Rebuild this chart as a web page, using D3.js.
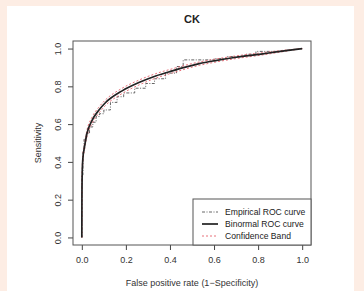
<!DOCTYPE html>
<html>
<head>
<meta charset="utf-8">
<script src="https://cdn.jsdelivr.net/npm/d3@7"></script>
<style>
  body { margin: 0; background: #fdede4; }
  svg { display: block; font-family: "Liberation Sans", Arial, sans-serif; }
</style>
</head>
<body>
<svg id="ROC_CHART" width="364" height="291"></svg>
<script>
// binormal ROC curve
const binFpr  = [0, 0.0005, 0.002, 0.005, 0.012, 0.023, 0.046, 0.076, 0.107, 0.183, 0.259, 0.335, 0.411, 0.533, 0.6, 0.7, 0.813, 0.9, 1.0];
const binSens = [0, 0.2, 0.35, 0.42, 0.478, 0.549, 0.619, 0.672, 0.713, 0.776, 0.82, 0.855, 0.882, 0.92, 0.935, 0.954, 0.971, 0.985, 1.0];

// confidence band (red dashed), same fpr points
const bandLow  = [0, 0.17, 0.32, 0.40, 0.462, 0.532, 0.602, 0.656, 0.698, 0.762, 0.807, 0.843, 0.871, 0.911, 0.927, 0.947, 0.965, 0.981, 1.0];
const bandHigh = [0, 0.23, 0.38, 0.44, 0.494, 0.566, 0.636, 0.688, 0.728, 0.79, 0.833, 0.867, 0.893, 0.929, 0.943, 0.961, 0.977, 0.989, 1.0];

// empirical ROC curve (step vertices)
const empFpr  = [0, 0, 0.005, 0.005, 0.01, 0.01, 0.02, 0.02, 0.035, 0.035, 0.05, 0.05, 0.065, 0.065, 0.08, 0.08, 0.1, 0.1, 0.13, 0.13, 0.16, 0.16, 0.19, 0.19, 0.24, 0.24, 0.29, 0.29, 0.33, 0.33, 0.38, 0.38, 0.43, 0.43, 0.46, 0.46, 0.6, 0.6, 0.66, 0.66, 0.74, 0.74, 0.79, 0.79, 0.92, 0.92, 1.0];
const empSens = [0, 0.33, 0.33, 0.45, 0.45, 0.52, 0.52, 0.55, 0.55, 0.585, 0.585, 0.61, 0.61, 0.64, 0.64, 0.655, 0.655, 0.675, 0.675, 0.715, 0.715, 0.745, 0.745, 0.765, 0.765, 0.79, 0.79, 0.815, 0.815, 0.84, 0.84, 0.87, 0.87, 0.905, 0.905, 0.94, 0.94, 0.947, 0.947, 0.958, 0.958, 0.97, 0.97, 0.985, 0.985, 0.99, 1.0];

const xTicks = [0, 0.2, 0.4, 0.6, 0.8, 1.0];
const yTicks = [0, 0.2, 0.4, 0.6, 0.8, 1.0];
const legendLabels = ["Empirical ROC curve", "Binormal ROC curve", "Confidence Band"];

var svg = d3.select("#ROC_CHART");
var box = { left: 73, right: 311, top: 41, bottom: 245 };

// white panel
svg.append("rect").attr("x", 7).attr("y", 6).attr("width", 347).attr("height", 290).attr("fill", "#fff");

var x = d3.scaleLinear().domain([-0.04, 1.04]).range([box.left, box.right]);
var y = d3.scaleLinear().domain([-0.04, 1.04]).range([box.bottom, box.top]);

svg.append("clipPath").attr("id", "clip")
  .append("rect")
  .attr("x", box.left).attr("y", box.top)
  .attr("width", box.right - box.left).attr("height", box.bottom - box.top);

var plot = svg.append("g").attr("clip-path", "url(#clip)");

var line = d3.line()
  .x(function (d) { return x(d[0]); })
  .y(function (d) { return y(d[1]); });
var smooth = d3.line()
  .x(function (d) { return x(d[0]); })
  .y(function (d) { return y(d[1]); })
  .curve(d3.curveMonotoneX);

var emp = empFpr.map(function (f, i) { return [f, empSens[i]]; });
var low = binFpr.map(function (f, i) { return [f, bandLow[i]]; });
var high = binFpr.map(function (f, i) { return [f, bandHigh[i]]; });
var bin = binFpr.map(function (f, i) { return [f, binSens[i]]; });

plot.append("path").attr("d", line(emp))
  .attr("fill", "none").attr("stroke", "#555").attr("stroke-width", 0.9)
  .attr("stroke-dasharray", "3,1.5,1,1.5");

[low, high].forEach(function (b) {
  plot.append("path").attr("d", smooth(b))
    .attr("fill", "none").attr("stroke", "#e8707a").attr("stroke-width", 1)
    .attr("stroke-dasharray", "2,2");
});

plot.append("path").attr("d", smooth(bin))
  .attr("fill", "none").attr("stroke", "#222").attr("stroke-width", 1.7);

// axes
var xAxis = svg.append("g")
  .attr("transform", "translate(0," + box.bottom + ")")
  .call(d3.axisBottom(x).tickValues(xTicks).tickSize(5).tickFormat(d3.format(".1f")));
var yAxis = svg.append("g")
  .attr("transform", "translate(" + box.left + ",0)")
  .call(d3.axisLeft(y).tickValues(yTicks).tickSize(5).tickFormat(d3.format(".1f")));

[xAxis, yAxis].forEach(function (a) {
  a.select(".domain").remove();
  a.selectAll("line").attr("stroke", "#444");
  a.selectAll("text").attr("fill", "#333").style("font-size", "9px")
    .style("font-family", "Liberation Sans, Arial, sans-serif");
});
xAxis.selectAll("text").attr("y", 12);
yAxis.selectAll("text")
  .attr("x", 0).attr("dy", 0)
  .attr("transform", function (d) { return "translate(-15,0) rotate(-90)"; })
  .attr("text-anchor", "middle")
  .attr("dominant-baseline", "central");

svg.append("rect")
  .attr("x", box.left).attr("y", box.top)
  .attr("width", box.right - box.left).attr("height", box.bottom - box.top)
  .attr("fill", "none").attr("stroke", "#555").attr("stroke-width", 1);

// titles
svg.append("text").text("CK")
  .attr("x", 192).attr("y", 23).attr("text-anchor", "middle")
  .style("font-size", "11px").style("font-weight", "bold").attr("fill", "#222");
svg.append("text").text("False positive rate (1\u2212Specificity)")
  .attr("x", 192).attr("y", 286).attr("text-anchor", "middle")
  .style("font-size", "9px").attr("fill", "#333");
svg.append("text").text("Sensitivity")
  .attr("transform", "translate(38,143) rotate(-90)")
  .attr("text-anchor", "middle").attr("dominant-baseline", "central")
  .style("font-size", "9px").attr("fill", "#333");

// legend
var leg = svg.append("g");
leg.append("rect").attr("x", 193).attr("y", 199).attr("width", 118).attr("height", 46)
  .attr("fill", "#fff").attr("stroke", "#555").attr("stroke-width", 1);
var legStyles = [
  { stroke: "#555", width: 0.9, dash: "3,1.5,1,1.5" },
  { stroke: "#222", width: 1.7, dash: null },
  { stroke: "#e8707a", width: 1, dash: "2,2" }
];
legendLabels.forEach(function (lab, i) {
  var yy = 212 + i * 12;
  leg.append("line").attr("x1", 202).attr("x2", 218).attr("y1", yy).attr("y2", yy)
    .attr("stroke", legStyles[i].stroke).attr("stroke-width", legStyles[i].width)
    .attr("stroke-dasharray", legStyles[i].dash);
  leg.append("text").text(lab).attr("x", 225).attr("y", yy)
    .attr("dominant-baseline", "central")
    .style("font-size", "8.6px").attr("fill", "#222");
});
</script>
</body>
</html>
